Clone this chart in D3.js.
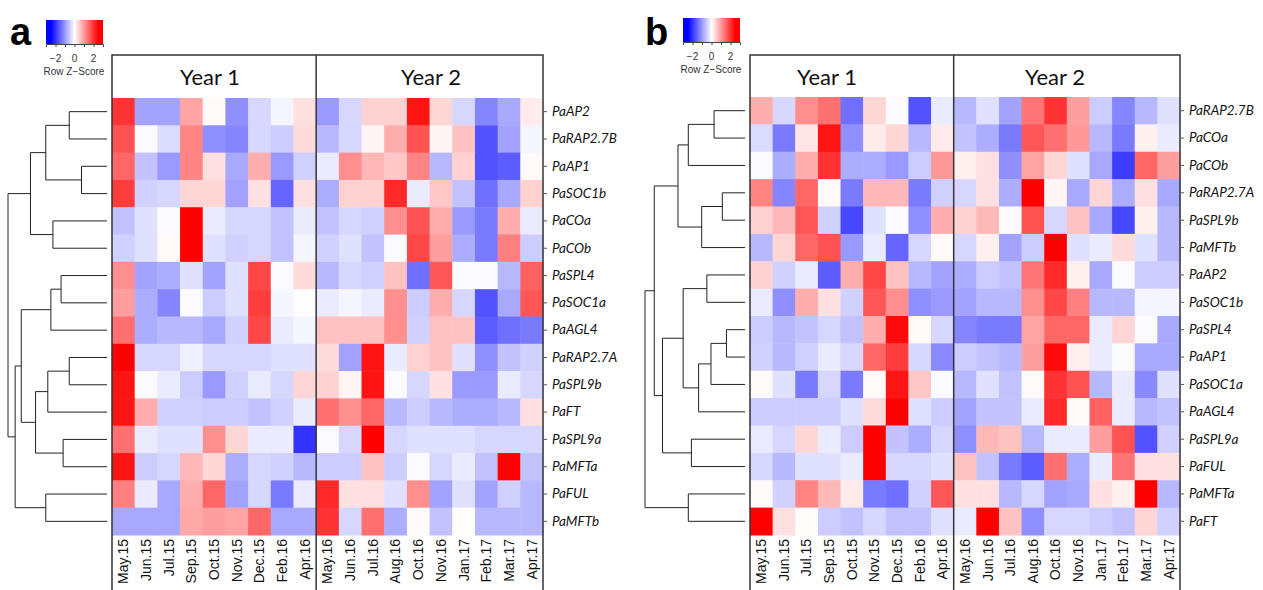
<!DOCTYPE html>
<html>
<head>
<meta charset="utf-8">
<script src="https://cdn.jsdelivr.net/npm/d3@7"></script>
<style>
  body { margin: 0; background: #fff; }
  svg { display: block; }
</style>
</head>
<body>
<svg id="chart" width="1263" height="590"></svg>
<script>
// months on the x axis (same for both panels)
var year1Months = ["May.15", "Jun.15", "Jul.15", "Sep.15", "Oct.15", "Nov.15", "Dec.15", "Feb.16", "Apr.16"];
var year2Months = ["May.16", "Jun.16", "Jul.16", "Aug.16", "Oct.16", "Nov.16", "Jan.17", "Feb.17", "Mar.17", "Apr.17"];

// panel a: genes (top to bottom) and row z-scores
var genesA = ["PaAP2", "PaRAP2.7B", "PaAP1", "PaSOC1b", "PaCOa", "PaCOb", "PaSPL4", "PaSOC1a",
  "PaAGL4", "PaRAP2.7A", "PaSPL9b", "PaFT", "PaSPL9a", "PaMFTa", "PaFUL", "PaMFTb"];
var zA = [
  [2.0, -0.9, -0.9, 0.9, 0.05, -1.1, -0.4, -0.1, 0.3, -1.0, -0.4, 0.45, 0.45, 2.3, 0.4, -0.4, -1.2, -0.85, 0.2],
  [1.7, -0.05, -0.35, 1.2, -1.1, -1.2, -0.4, -0.5, 0.35, -0.7, -0.4, 0.1, 0.8, 1.7, 0.1, 0.6, -1.7, -0.9, -0.1],
  [1.5, -0.6, -1.0, 1.2, 0.3, -0.85, 0.8, -1.0, -0.45, -0.2, 1.1, 0.7, 0.55, 1.2, -0.7, 0.45, -1.7, -1.6, 0.05],
  [1.9, -0.45, -0.4, 0.4, 0.4, -0.9, 0.3, -1.5, 0.3, -0.8, 0.45, 0.45, 2.1, -0.2, 0.55, -0.6, -1.4, -0.85, 0.45],
  [-0.6, -0.3, -0.05, 2.5, -0.2, -0.4, -0.4, -0.6, -0.2, -0.6, -0.4, -0.45, 1.1, 1.7, 0.8, -1.0, -1.3, 0.8, -0.2],
  [-0.45, -0.3, 0.05, 2.5, -0.3, -0.45, -0.4, -0.6, -0.1, -0.45, -0.3, -0.6, -0.05, 1.8, 0.95, -0.8, -1.3, 1.25, -0.5],
  [1.1, -0.9, -0.8, -0.3, -0.9, -0.3, 1.8, -0.05, 0.35, -0.7, -0.4, -0.45, 0.6, -1.4, 1.65, -0.05, -0.05, -0.7, 1.55],
  [0.95, -0.8, -1.2, -0.05, -0.5, -0.3, 1.9, -0.1, 0.03, -0.2, -0.1, -0.2, 1.1, -0.5, 0.8, -0.4, -1.7, -0.85, 1.65],
  [1.4, -0.8, -0.7, -0.7, -0.85, -0.45, 1.8, -0.2, -0.1, 0.6, 0.6, 0.6, 1.1, -0.45, 0.6, 0.6, -1.6, -1.4, -1.3],
  [2.5, -0.4, -0.4, -0.15, -0.4, -0.4, -0.4, -0.3, -0.3, 0.35, -0.9, 2.3, -0.2, 0.45, 0.6, -0.3, -1.1, -0.6, -0.45],
  [2.3, -0.05, -0.2, -0.5, -1.0, -0.45, -0.2, -0.4, 0.4, 0.45, 0.1, 2.3, -0.05, -0.4, 0.3, -1.0, -1.0, -0.2, -0.4],
  [2.3, 0.8, -0.45, -0.45, -0.5, -0.5, -0.6, -0.45, -0.2, 1.4, 1.1, 1.5, -0.7, -0.5, -0.7, -0.8, -0.8, -0.7, 0.3],
  [1.4, -0.2, -0.3, -0.3, 1.1, 0.4, -0.2, -0.2, -2.0, -0.05, -0.4, 2.5, -0.4, -0.3, -0.3, -0.3, -0.4, -0.4, -0.4],
  [2.3, -0.5, -0.4, 0.7, 0.4, -0.8, -0.4, -0.45, -0.7, -0.5, -0.5, 0.6, -0.5, -0.05, -0.4, -0.2, -0.6, 2.5, -0.6],
  [1.25, -0.2, -0.85, 0.8, 1.5, -0.9, -0.4, -1.3, -0.2, 2.1, 0.3, 0.3, -0.3, 1.1, -0.9, -0.3, -0.9, -0.45, -0.7],
  [-0.85, -0.85, -0.85, 0.85, 0.95, 0.9, 1.5, -0.85, -0.85, 2.0, -0.4, 1.4, -0.8, 0.05, -0.6, 0.03, -0.7, -0.7, -0.7]
];
// row dendrogram of panel a, hclust style: negative = leaf index (1-based), positive = earlier merge
var mergeA = [[-1, -2], [-3, -4], [1, 2], [-5, -6], [3, 4], [-7, -8], [6, -9], [-10, -11], [8, -12],
  [-13, -14], [9, 10], [7, 11], [-15, -16], [12, 13], [5, 14]];
var heightA = [37, 25, 60, 53, 75, 45, 55, 37, 58, 43, 70, 84, 60, 90, 97];

// panel b: genes and row z-scores
var genesB = ["PaRAP2.7B", "PaCOa", "PaCOb", "PaRAP2.7A", "PaSPL9b", "PaMFTb", "PaAP2", "PaSOC1b",
  "PaSPL4", "PaAP1", "PaSOC1a", "PaAGL4", "PaSPL9a", "PaFUL", "PaMFTa", "PaFT"];
var zB = [
  [0.8, -0.4, 1.1, 1.4, -1.4, 0.4, -0.05, -1.7, -0.2, -0.7, -0.3, -0.9, 1.35, 2.0, 0.95, -0.5, -1.2, -0.7, -0.3],
  [-0.35, -1.3, 0.25, 2.3, -1.1, 0.2, 0.4, -0.7, 0.2, -0.6, -0.8, -1.3, 1.65, 1.4, 1.0, -0.7, -1.3, 0.15, -0.2],
  [-0.05, -0.8, 0.8, 2.0, -0.8, -0.8, -1.0, -0.5, 1.0, 0.15, 0.3, -1.1, 0.9, 0.4, -0.3, -0.85, -1.9, 1.5, 0.95],
  [1.2, -1.2, 1.5, 0.05, -1.3, 0.7, 0.7, -1.3, -0.45, -0.4, 0.3, -0.8, 2.5, 0.1, -0.85, 0.4, -0.8, 0.3, -0.85],
  [0.45, 0.7, 1.65, -0.45, -1.8, -0.3, -0.05, -1.1, 0.8, 0.45, 0.7, 0.05, 1.7, -0.4, 0.6, -0.85, -1.8, 0.15, -0.7],
  [-0.7, 0.4, 1.5, 1.7, -1.0, -0.2, -1.5, -0.4, 0.05, -0.4, 0.15, -0.9, -0.5, 2.5, -0.3, -0.2, 0.35, -0.3, -0.7],
  [0.45, -0.45, -0.2, -1.6, 0.8, 1.8, 0.6, -0.7, -0.9, -0.8, -0.5, -0.6, 1.35, 2.1, 0.15, -0.85, -0.05, -0.5, -0.5],
  [-0.2, -1.1, 0.8, 0.3, -0.45, 1.65, 1.1, -1.1, -1.0, -0.9, -0.7, -0.7, 1.1, 1.8, 1.25, -0.7, -0.7, -0.1, -0.1],
  [-0.5, -0.7, -0.6, -0.4, -0.6, 0.8, 2.4, 0.05, -0.4, -1.2, -1.3, -1.3, 0.9, 1.5, 1.5, -0.2, 0.4, -0.05, -0.85],
  [-0.45, -0.7, -0.45, -0.2, -0.4, 1.5, 1.9, -0.4, -1.15, -0.5, -0.6, -0.7, 0.95, 2.4, 0.15, -0.2, -0.05, -0.85, -0.85],
  [0.05, -0.3, -1.3, -0.4, -1.3, 0.05, 2.3, 0.55, -0.05, -0.7, -0.3, -0.6, 0.05, 2.0, 1.7, -0.7, -0.2, -1.15, -0.3],
  [-0.5, -0.5, -0.5, -0.5, -0.3, 0.35, 2.5, -0.3, -0.5, -0.9, -0.6, -0.6, -0.2, 2.1, 0.05, 1.55, -0.2, -0.7, -0.6],
  [-0.2, -0.4, 0.4, -0.2, -0.5, 2.5, -0.6, -0.8, -0.4, -1.1, 0.7, 0.6, -0.7, -0.2, -0.2, 0.95, 1.7, -1.7, -0.45],
  [-0.4, -0.7, -0.3, -0.3, -0.2, 2.5, -0.4, -0.4, -0.3, 0.6, -0.6, -1.3, -1.6, 1.4, -0.8, -0.2, 1.35, 0.3, 0.3],
  [0.05, -0.45, 1.2, 0.7, 0.2, -1.3, -1.4, -0.45, 1.65, 0.3, 0.3, -0.7, -0.4, -0.9, -0.85, 0.3, 0.15, 2.5, -0.7],
  [2.5, 0.3, 0.03, -0.5, -0.6, -0.4, -0.6, -0.6, -0.3, -0.2, 2.5, 0.6, -1.1, -0.4, -0.4, -0.5, -0.6, 0.4, -0.45]
];
var mergeB = [[-1, -2], [1, -3], [-4, -5], [3, -6], [2, 4], [-7, -8], [-9, -10], [7, -11], [8, -12],
  [6, 9], [-13, -14], [10, 11], [5, 12], [-15, -16], [13, 14]];
var heightB = [30, 55, 22, 42, 65, 37, 18, 33, 45, 60, 52, 80, 88, 55, 97];

var legendTicks = [-2, -1, 0, 1, 2];
var legendLabels = [-2, 0, 2];

var color = d3.scaleLinear()
  .domain([-2.5, 0, 2.5])
  .range(["#0000ff", "#ffffff", "#ff0000"])
  .clamp(true);

var svg = d3.select("#chart");
var months = year1Months.concat(year2Months);

function drawPanel(p) {
  var g = svg.append("g");

  var x = d3.scaleBand().domain(months).range([p.x0, p.x1]);
  var y = d3.scaleBand().domain(p.genes).range([p.y0, p.y1]);

  // cells
  p.z.forEach(function(row, i) {
    g.selectAll(null)
      .data(row)
      .enter()
      .append("rect")
      .attr("x", function(d, j) { return x(months[j]); })
      .attr("y", y(p.genes[i]))
      .attr("width", x.bandwidth() + 0.5)
      .attr("height", y.bandwidth() + 0.5)
      .attr("fill", function(d) { return color(d); });
  });

  // frame + year divider
  var divX = x(year2Months[0]);
  g.append("rect")
    .attr("x", p.x0).attr("y", p.frameTop)
    .attr("width", p.x1 - p.x0).attr("height", 600)
    .attr("fill", "none").attr("stroke", "#333").attr("stroke-width", 1.5);
  g.append("line")
    .attr("x1", divX).attr("x2", divX)
    .attr("y1", p.frameTop).attr("y2", 600)
    .attr("stroke", "#333").attr("stroke-width", 1.5);

  // year headers
  g.selectAll(".yr")
    .data(["Year 1", "Year 2"])
    .enter()
    .append("text")
    .attr("x", function(d, i) { return p.headX[i]; })
    .attr("y", p.frameTop + 30)
    .attr("text-anchor", "middle")
    .style("font-family", "Lato, 'Open Sans', sans-serif")
    .style("font-size", "22px")
    .attr("fill", "#111")
    .text(function(d) { return d; });

  // row labels
  var yAxis = d3.axisRight(y).tickSize(3).tickPadding(5);
  var ya = g.append("g")
    .attr("transform", "translate(" + (p.x1 + 1) + ",0)")
    .call(yAxis);
  ya.select(".domain").remove();
  ya.selectAll("line").attr("stroke", "#555");
  ya.selectAll("text")
    .style("font-family", "Lato, 'Open Sans', sans-serif")
    .style("font-style", "italic")
    .style("font-size", "13.5px")
    .attr("fill", "#111");

  // column labels
  var xAxis = d3.axisBottom(x).tickSize(0).tickPadding(0);
  var xa = g.append("g")
    .attr("transform", "translate(0," + p.y1 + ")")
    .call(xAxis);
  xa.select(".domain").remove();
  xa.selectAll("text")
    .attr("transform", "rotate(-90)")
    .attr("x", -4)
    .attr("y", 0)
    .attr("dy", "0.35em")
    .style("text-anchor", "end")
    .style("font-family", "'Liberation Sans', Arial, sans-serif")
    .style("font-size", "14px")
    .attr("fill", "#111");

  // row dendrogram
  var dx = d3.scaleLinear().domain([0, d3.max(p.heights)]).range([p.dendroRight, p.dendroLeft]);
  var nodes = [];
  function pos(k) {
    if (k < 0) {
      var gname = p.genes[-k - 1];
      return { x: dx(0), y: y(gname) + y.bandwidth() / 2 };
    }
    return nodes[k - 1];
  }
  p.merge.forEach(function(m, i) {
    var a = pos(m[0]), b = pos(m[1]);
    var nx = dx(p.heights[i]);
    var path = "M" + a.x + "," + a.y + "H" + nx + "V" + b.y + "H" + b.x;
    g.append("path")
      .attr("d", path)
      .attr("fill", "none")
      .attr("stroke", "#222")
      .attr("stroke-width", 1);
    nodes.push({ x: nx, y: (a.y + b.y) / 2 });
  });

  // panel letter
  g.append("text")
    .attr("x", p.letterX).attr("y", 45)
    .style("font-family", "'Liberation Sans', Arial, sans-serif")
    .style("font-weight", "bold")
    .style("font-size", "38px")
    .text(p.letter);

  // colour key
  var kx = d3.scaleLinear().domain([-3, 3]).range([p.keyX, p.keyX + 57]);
  var defs = svg.append("defs");
  var grad = defs.append("linearGradient").attr("id", "grad" + p.letter);
  d3.range(-3, 3.01, 0.25).forEach(function(v) {
    grad.append("stop")
      .attr("offset", ((v + 3) / 6 * 100) + "%")
      .attr("stop-color", color(v));
  });
  g.append("rect")
    .attr("x", p.keyX).attr("y", p.keyY)
    .attr("width", 57).attr("height", 24)
    .attr("fill", "url(#grad" + p.letter + ")");
  var ka = g.append("g")
    .attr("transform", "translate(0," + (p.keyY + 24) + ")")
    .call(d3.axisBottom(kx).tickValues(legendTicks).tickSize(3).tickFormat(""));
  ka.select(".domain").attr("stroke", "#444");
  ka.selectAll("line").attr("stroke", "#444");
  g.selectAll(".klab")
    .data(legendLabels)
    .enter()
    .append("text")
    .attr("x", function(d) { return kx(d); })
    .attr("y", p.keyY + 42)
    .attr("text-anchor", "middle")
    .style("font-family", "'Liberation Sans', Arial, sans-serif")
    .style("font-size", "10px")
    .attr("fill", "#333")
    .text(function(d) { return d < 0 ? "\u2212" + Math.abs(d) : d; });
  g.append("text")
    .attr("x", p.keyX + 28)
    .attr("y", p.keyY + 55)
    .attr("text-anchor", "middle")
    .style("font-family", "'Liberation Sans', Arial, sans-serif")
    .style("font-size", "10px")
    .attr("fill", "#333")
    .text("Row Z\u2212Score");
}

drawPanel({
  letter: "a", letterX: 10, keyX: 46, keyY: 20,
  genes: genesA, z: zA, merge: mergeA, heights: heightA,
  x0: 112, x1: 543, y0: 98, y1: 535, frameTop: 55,
  headX: [210, 431], dendroLeft: 8, dendroRight: 107
});

drawPanel({
  letter: "b", letterX: 645, keyX: 683, keyY: 18,
  genes: genesB, z: zB, merge: mergeB, heights: heightB,
  x0: 750, x1: 1180, y0: 97, y1: 535, frameTop: 55,
  headX: [827, 1055], dendroLeft: 645, dendroRight: 745
});
</script>
</body>
</html>
